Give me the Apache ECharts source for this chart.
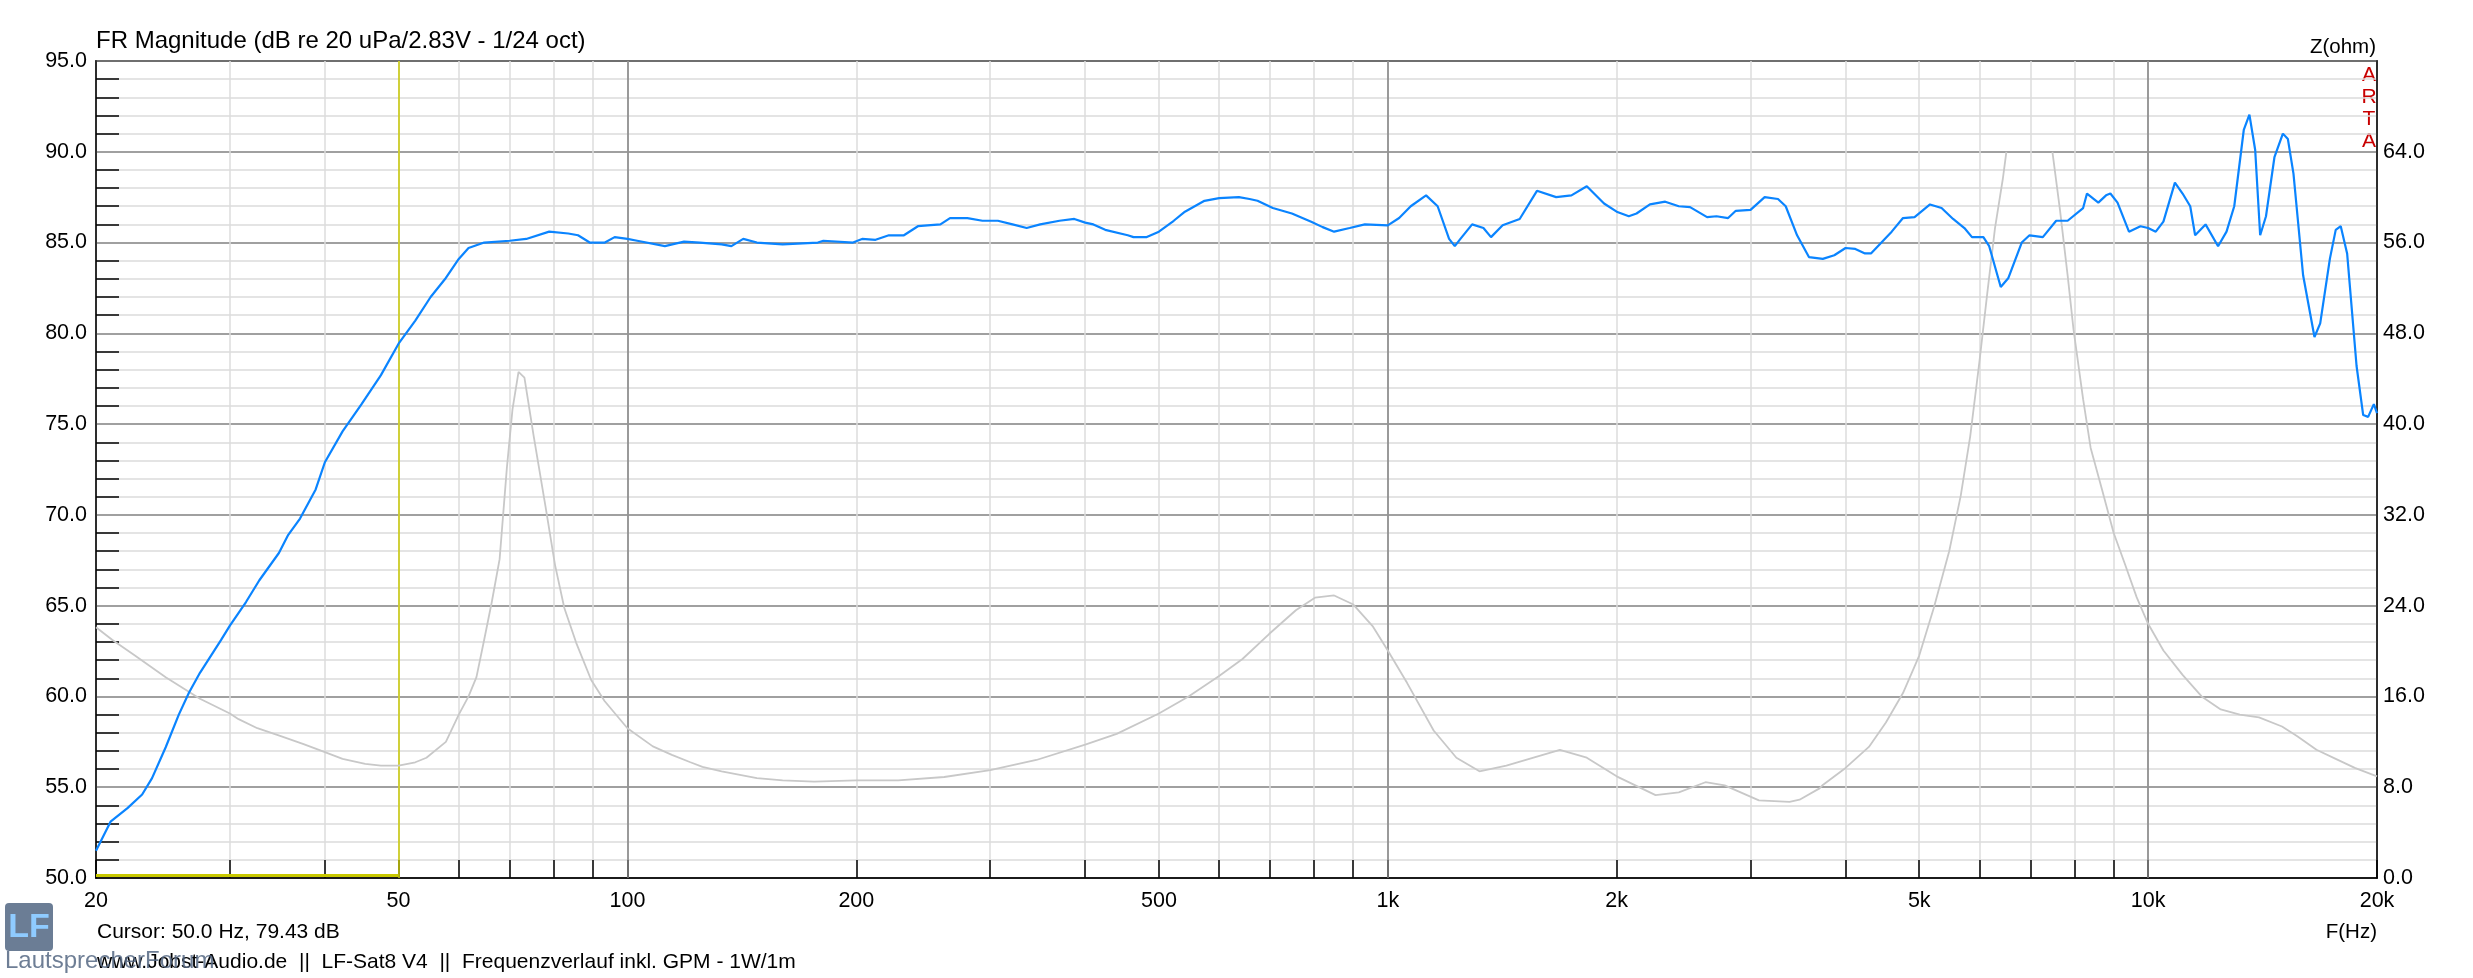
<!DOCTYPE html>
<html>
<head>
<meta charset="utf-8">
<title>FR Magnitude</title>
<script src="https://cdn.jsdelivr.net/npm/echarts@6/dist/echarts.min.js"></script>
<style>
html, body { margin: 0; padding: 0; background: #fff; }
#main { width: 2473px; height: 978px; }
</style>
</head>
<body>
<div id="main"></div>
<script>
// frequency response (dB)
var splFreq = [20, 20.9, 22, 23, 23.7, 24.7, 25.7, 26.5, 27.4, 29.2, 30, 31.5, 32.8, 34.8, 35.8, 37.1, 38.9,
    40, 42.2, 44.7, 47.4, 50, 52.6, 55.1, 57.7, 60, 61.8, 64.8, 70, 73.6, 78.9, 83.6, 86.1, 89.2, 93.4, 96.2,
    100, 103, 112, 118.7, 124.5, 133, 137, 142, 148, 160, 178, 181, 198, 203.5, 212, 220.7, 231, 241, 258,
    265.6, 280, 293, 307, 321, 335, 349, 370, 387, 400, 410, 425, 455, 463, 482, 500, 523, 541, 574, 600,
    637, 658, 674, 706, 748, 793, 821, 850, 891, 933, 1000, 1035, 1072, 1123, 1163, 1204, 1225, 1246, 1291,
    1336, 1367, 1416, 1491, 1571, 1665, 1744, 1827, 1925, 2000, 2075, 2124, 2212, 2317, 2414, 2498, 2630,
    2706, 2803, 2869, 3000, 3131, 3260, 3337, 3454, 3580, 3734, 3866, 4000, 4120, 4243, 4320, 4469, 4600,
    4760, 4930, 5166, 5350, 5540, 5733, 5866, 6072, 6180, 6400, 6550, 6820, 6983, 7270, 7570, 7837, 8213,
    8310, 8600, 8804, 8920, 9115, 9437, 9771, 10000, 10234, 10474, 10845, 11100, 11360, 11530, 11900, 12360,
    12680, 12980, 13360, 13590, 13830, 14040, 14290, 14660, 15040, 15270, 15530, 15990, 16550, 16840, 17340,
    17650, 17920, 18270, 18800, 19180, 19470, 19810, 20000];
var splDb = [51.5, 53.1, 53.85, 54.6, 55.5, 57.2, 59.0, 60.2, 61.3, 63.1, 63.9, 65.2, 66.4, 67.9, 68.9, 69.8, 71.4,
    72.9, 74.6, 76.1, 77.7, 79.43, 80.7, 82.0, 83.05, 84.1, 84.7, 85.0, 85.1, 85.2, 85.6, 85.5, 85.4, 85.0, 85.0, 85.3,
    85.2, 85.1, 84.8, 85.05, 85.0, 84.9, 84.8, 85.2, 85.0, 84.9, 85.0, 85.1, 85.0, 85.2, 85.15, 85.4, 85.4, 85.9, 86.0,
    86.35, 86.35, 86.2, 86.2, 86.0, 85.8, 86.0, 86.2, 86.3, 86.1, 86.0, 85.7, 85.4, 85.3, 85.3, 85.6, 86.2, 86.7, 87.3, 87.45,
    87.5, 87.4, 87.3, 86.9, 86.6, 86.15, 85.85, 85.6, 85.8, 86.0, 85.95, 86.35, 87.0, 87.6, 87.0, 85.2, 84.8, 85.2, 86.0,
    85.8, 85.3, 85.95, 86.3, 87.85, 87.5, 87.6, 88.1, 87.15, 86.7, 86.45, 86.6, 87.1, 87.25, 87.0, 86.95, 86.4,
    86.45, 86.35, 86.75, 86.8, 87.5, 87.4, 87.0, 85.4, 84.2, 84.1, 84.3, 84.7, 84.65, 84.4, 84.4, 85.05, 85.6,
    86.35, 86.4, 87.1, 86.9, 86.3, 85.8, 85.3, 85.3, 84.8, 82.55, 83.05, 85.0, 85.4, 85.3, 86.2, 86.2, 86.9,
    87.7, 87.2, 87.6, 87.7, 87.2, 85.6, 85.9, 85.8, 85.6, 86.15, 88.3, 87.7, 87.0, 85.4, 86.0, 84.8,
    85.6, 87.0, 91.2, 92.05, 90.1, 85.4, 86.45, 89.7, 91.0, 90.7, 88.8, 83.2, 79.8, 80.55, 84.1,
    85.7, 85.9, 84.4, 78.2, 75.5, 75.4, 76.1, 75.6];

// impedance (ohm), null = clipped above 64 ohm
var zFreq = [20, 21, 22.5, 24.7, 27.4, 30, 30.8, 32.6, 35, 37.5, 40, 42.2, 45.2, 47.4, 50, 52.6, 54.4, 57.7,
    60, 61.8, 63.3, 64.8, 66.3, 67.9, 69.4, 70.6, 71.9, 73.2, 75.3, 78, 80.3, 82.6, 85.6, 89.6, 93.3, 100,
    108, 114.4, 121, 125.5, 133, 148, 160, 176, 200, 227, 261, 300, 345, 400, 440, 500, 547, 600, 644, 698,
    757, 802, 850, 901, 955, 1000, 1060, 1149, 1231, 1320, 1432, 1684, 1827, 2000, 2250, 2414, 2617, 2774,
    3077, 3376, 3480, 3697, 3734, 4000, 4293, 4520, 4760, 5000, 5225, 5475, 5670, 5834, 6000, 6147, 6290,
    6440, 6510, 7000, 7484, 7660, 7837, 7979, 8213, 8403, 8700, 9010, 9329, 9658, 10000, 10474, 11100,
    11760, 12460, 13200, 13990, 15000, 15710, 16650, 17650, 18700, 20000];
var zOhm = [22.1, 21.0, 19.6, 17.7, 15.8, 14.5, 14.0, 13.2, 12.5, 11.8, 11.1, 10.5, 10.05, 9.9, 9.9, 10.2, 10.6, 12.0,
    14.4, 16.0, 17.7, 21.0, 24.3, 28.1, 36.1, 41.3, 44.6, 44.1, 38.9, 32.8, 27.6, 23.8, 20.75, 17.45, 15.6, 13.2,
    11.6, 10.85, 10.2, 9.8, 9.4, 8.8, 8.6, 8.5, 8.6, 8.6, 8.9, 9.5, 10.4, 11.75, 12.7, 14.5, 16.0, 17.8, 19.3, 21.5,
    23.6, 24.7, 24.9, 24.1, 22.2, 20.05, 17.2, 13.0, 10.6, 9.4, 9.9, 11.3, 10.6, 8.96, 7.3, 7.55, 8.44, 8.16,
    6.84, 6.7, 6.9, 7.9, 8.2, 9.7, 11.55, 13.7, 16.3, 19.6, 23.8, 28.8, 33.7, 38.9, 45.5, 51.65, 57.3,
    61.6, 64, null, 64, 58.8, 53.1, 48.3, 42.2, 37.9, 34.2, 30.4, 27.6, 24.75, 22.4, 20.05, 17.9,
    16.0, 14.85, 14.4, 14.15, 13.35, 12.5, 11.3, 10.5, 9.7, 8.96];

// axis ticks and labels
var freqLabels = [20, 50, 100, 200, 500, 1000, 2000, 5000, 10000, 20000];
var freqTicks = [20, 30, 40, 50, 60, 70, 80, 90, 100, 200, 300, 400, 500, 600, 700, 800, 900,
    1000, 2000, 3000, 4000, 5000, 6000, 7000, 8000, 9000, 10000, 20000];
var freqMajor = [100, 1000, 10000];

// cursor
var cursorFreq = 50;
var cursorDb = 79.43;
var cursorFloorDb = 50.17;

var FONT = 'Liberation Sans';

function pairs(xs, ys) {
    return xs.map(function (x, i) {
        return [x, ys[i] === null ? '-' : ys[i]];
    });
}

var myChart = echarts.init(document.getElementById('main'));

var option = {
    animation: false,
    backgroundColor: '#fff',
    textStyle: { fontFamily: FONT },
    title: {
        text: 'FR Magnitude (dB re 20 uPa/2.83V - 1/24 oct)',
        left: 96,
        top: 29,
        padding: 0,
        textStyle: { fontFamily: FONT, fontSize: 24, fontWeight: 'normal', color: '#000' }
    },
    grid: {
        left: 96, top: 61, width: 2281, height: 817,
        show: true, borderColor: '#000', borderWidth: 1.5, backgroundColor: 'transparent'
    },
    xAxis: {
        type: 'log',
        logBase: 10,
        min: 20,
        max: 20000,
        axisLine: { show: true, lineStyle: { color: '#000', width: 1.5 } },
        axisTick: {
            show: true, inside: true, length: 18,
            customValues: freqTicks,
            lineStyle: { color: '#000', width: 1.5 }
        },
        axisLabel: {
            customValues: freqLabels,
            showMinLabel: true, showMaxLabel: true,
            margin: 12,
            color: '#000', fontFamily: FONT, fontSize: 21.5,
            formatter: function (v) {
                return v >= 1000 ? Math.round(v / 1000) + 'k' : String(Math.round(v));
            }
        },
        splitLine: { show: true, lineStyle: { color: '#dcdcdc', width: 1.5 } },
        minorSplitLine: { show: false }
    },
    yAxis: [{
        type: 'value',
        min: 50, max: 95, interval: 5,
        axisLine: { show: true, lineStyle: { color: '#000', width: 1.5 } },
        axisTick: { show: false, inside: true },
        minorTick: { show: true, splitNumber: 5, length: 23, lineStyle: { color: '#000', width: 1.5 } },
        axisLabel: {
            margin: 9, color: '#000', fontFamily: FONT, fontSize: 21.5,
            formatter: function (v) { return v.toFixed(1); }
        },
        splitLine: { show: true, lineStyle: { color: '#808080', width: 1.5 } },
        minorSplitLine: { show: true, lineStyle: { color: '#dcdcdc', width: 1.5 } }
    }, {
        type: 'value',
        position: 'right',
        min: 0, max: 72, interval: 8,
        axisLine: { show: true, lineStyle: { color: '#000', width: 1.5 } },
        axisTick: { show: false },
        axisLabel: {
            margin: 6, color: '#000', fontFamily: FONT, fontSize: 21.5,
            formatter: function (v) { return v >= 72 ? '' : v.toFixed(1); }
        },
        splitLine: { show: false }
    }],
    series: [{
        name: 'grid',
        type: 'line',
        data: [],
        silent: true,
        markLine: {
            z: 1,
            silent: true,
            symbol: 'none',
            label: { show: false },
            lineStyle: { color: '#808080', width: 1.5, type: 'solid' },
            data: freqMajor.map(function (f) { return { xAxis: f }; })
        }
    }, {
        name: 'Z',
        type: 'line',
        yAxisIndex: 1,
        data: pairs(zFreq, zOhm),
        showSymbol: false,
        connectNulls: false,
        z: 3,
        lineStyle: { color: '#c8c8c8', width: 1.8 }
    }, {
        name: 'SPL',
        type: 'line',
        data: pairs(splFreq, splDb),
        showSymbol: false,
        z: 4,
        lineStyle: { color: '#0a84ff', width: 2.2 }
    }, {
        name: 'cursor',
        type: 'line',
        data: [],
        silent: true,
        markLine: {
            z: 2,
            silent: true,
            symbol: 'none',
            label: { show: false },
            data: [
                { xAxis: cursorFreq, lineStyle: { color: '#c8c800', width: 1.5, type: 'solid' } },
                [
                    { coord: [20, cursorFloorDb], lineStyle: { color: '#c8c800', width: 3, type: 'solid' } },
                    { coord: [cursorFreq, cursorFloorDb] }
                ]
            ]
        }
    }],
    graphic: [
        { type: 'text', x: 2376, y: 47,
          style: { text: 'Z(ohm)', font: '20.5px ' + FONT, fill: '#000', align: 'right', verticalAlign: 'middle' } },
        { type: 'text', x: 2369, y: 75, style: { text: 'A', font: '21px ' + FONT, fill: '#c80000', align: 'center', verticalAlign: 'middle' } },
        { type: 'text', x: 2369, y: 97, style: { text: 'R', font: '21px ' + FONT, fill: '#c80000', align: 'center', verticalAlign: 'middle' } },
        { type: 'text', x: 2369, y: 119, style: { text: 'T', font: '21px ' + FONT, fill: '#c80000', align: 'center', verticalAlign: 'middle' } },
        { type: 'text', x: 2369, y: 141, style: { text: 'A', font: '21px ' + FONT, fill: '#c80000', align: 'center', verticalAlign: 'middle' } },
        { type: 'text', x: 2377, y: 932, style: { text: 'F(Hz)', font: '20.5px ' + FONT, fill: '#000', align: 'right', verticalAlign: 'middle' } },
        { type: 'text', x: 97, y: 932,
          style: { text: 'Cursor: ' + cursorFreq.toFixed(1) + ' Hz, ' + cursorDb.toFixed(2) + ' dB',
                   font: '21px ' + FONT, fill: '#000', verticalAlign: 'middle' } },
        { type: 'text', x: 97, y: 962,
          style: { text: 'www.Jobst-Audio.de  ||  LF-Sat8 V4  ||  Frequenzverlauf inkl. GPM - 1W/1m',
                   font: '21px ' + FONT, fill: '#000', verticalAlign: 'middle' } },
        // LautsprecherForum logo
        { type: 'rect', shape: { x: 5, y: 903, width: 48, height: 48, r: 4 }, style: { fill: '#6b7d95' } },
        { type: 'text', x: 29, y: 928,
          style: { text: 'LF', font: 'bold 34px ' + FONT, fill: '#8fcbff', align: 'center', verticalAlign: 'middle' } },
        { type: 'text', x: 5, y: 961, z: 100,
          style: { text: 'LautsprecherForum', font: '24px ' + FONT, fill: 'rgba(85,103,130,0.85)', verticalAlign: 'middle' } }
    ]
};

myChart.setOption(option);
</script>
</body>
</html>
